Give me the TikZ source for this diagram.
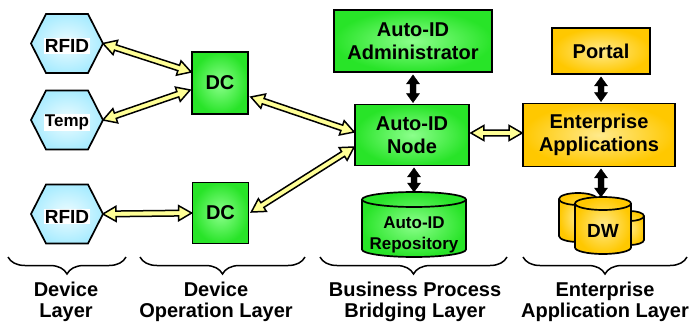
\documentclass[tikz,border=0pt]{standalone}
\usepackage{fontspec}
\setmainfont{Liberation Sans}
\usetikzlibrary{calc,decorations.pathreplacing}

\definecolor{boxgreen}{RGB}{40,228,40}
\definecolor{boxgreenlight}{RGB}{140,255,140}
\definecolor{boxgold}{RGB}{255,200,0}
\definecolor{boxgoldlight}{RGB}{255,234,140}
\definecolor{hexcyan}{RGB}{170,236,255}
\definecolor{hexlight}{RGB}{238,252,255}
\definecolor{linkyellow}{RGB}{255,255,150}

% double-headed block arrow: style, from, to, head length, head half-width, shaft half-width
\newcommand\fatarrow[6]{%
  \filldraw[#1] (#2)
    -- ($(#2)!#4!(#3)!#5!90:(#3)$)
    -- ($(#2)!#4!(#3)!#6!90:(#3)$)
    -- ($(#3)!#4!(#2)!#6!-90:(#2)$)
    -- ($(#3)!#4!(#2)!#5!-90:(#2)$)
    -- (#3)
    -- ($(#3)!#4!(#2)!#5!90:(#2)$)
    -- ($(#3)!#4!(#2)!#6!90:(#2)$)
    -- ($(#2)!#4!(#3)!#6!-90:(#3)$)
    -- ($(#2)!#4!(#3)!#5!-90:(#3)$)
    -- cycle;}

% hexagonal device: name, x, y, label
\newcommand\hexdevice[4]{%
  \shadedraw[hexshape] (#2-36,#3) -- (#2-21,#3-29.5) -- (#2+21,#3-29.5)
    -- (#2+36,#3) -- (#2+21,#3+29.5) -- (#2-21,#3+29.5) -- cycle;
  \coordinate (#1-tip) at (#2+36,#3);
  \node[hexlabel] (#1) at (#2,#3+2.5) {#4};}

% cylinder: center x, x radius, top y, bottom y, y radius, inner colour, outer colour
\newcommand\drum[7]{%
  \shadedraw[drumline, inner color=#6, outer color=#7]
    (#1-#2,#3+#5) -- (#1-#2,#4-#5)
    arc[start angle=180, end angle=0, x radius=#2, y radius=#5]
    -- (#1+#2,#3+#5)
    arc[start angle=0, end angle=-180, x radius=#2, y radius=#5] -- cycle;
  \draw[drumline] (#1-#2,#3+#5) arc[start angle=180, end angle=0, x radius=#2, y radius=#5];}

\begin{document}
\begin{tikzpicture}[x=1pt, y=-1pt,
  boxtext/.style={font=\fontsize{20}{23.5}\selectfont\bfseries, align=center, inner sep=0pt},
  greenbox/.style={boxtext, draw, line width=1.8pt, inner color=boxgreenlight, outer color=boxgreen},
  goldbox/.style={boxtext, draw, line width=1.8pt, inner color=boxgoldlight, outer color=boxgold},
  hexshape/.style={draw, line width=1.7pt, line join=miter, inner color=hexlight, outer color=hexcyan},
  hexlabel/.style={fill=white, inner sep=1pt, font=\fontsize{19}{21}\selectfont\bfseries},
  drumline/.style={draw, line width=1.7pt},
  drumtext/.style={font=\fontsize{17}{21}\selectfont\bfseries, align=center, inner sep=0pt},
  yarrow/.style={fill=linkyellow, draw=black, line width=1.5pt, line join=miter},
  barrow/.style={fill=black, draw=black, line width=0.4pt},
  layerlabel/.style={font=\fontsize{20}{21}\selectfont\bfseries, align=center, inner sep=0pt},
  layerbrace/.style={draw, line width=1.5pt, decorate, decoration={brace, amplitude=17pt}}]

\useasboundingbox (0,0) rectangle (691,324);

% device layer
\hexdevice{rfid1}{67}{43.5}{RFID}
\hexdevice{temp}{67}{120}{\fontsize{17}{19}\selectfont Temp}
\hexdevice{rfid2}{67}{214}{RFID}

% device operation layer
\node[greenbox, minimum width=56pt, minimum height=62pt] (dc1) at (220,83) {DC};
\node[greenbox, minimum width=56pt, minimum height=61pt] (dc2) at (220.5,213) {DC};

% business process bridging layer
\node[greenbox, minimum width=158pt, minimum height=62pt] (admin) at (413,41) {Auto-ID\\Administrator};
\node[greenbox, minimum width=114pt, minimum height=61pt] (autonode) at (412,135) {Auto-ID\\Node};
\drum{414}{52}{192}{257}{7.5}{boxgreenlight}{boxgreen}
\node[drumtext] (repo) at (414,235) {Auto-ID\\Repository};
\coordinate (repo-top) at (414,192);

% enterprise application layer
\node[goldbox, minimum width=98pt, minimum height=46pt] (portal) at (601,51) {Portal};
\node[goldbox, minimum width=152pt, minimum height=63pt] (ea) at (599,135) {Enterprise\\Applications};
\drum{578}{19}{193}{242}{6}{boxgoldlight}{boxgold}
\drum{629}{15}{211}{245}{5}{boxgoldlight}{boxgold}
\drum{603}{28}{197}{254}{6.5}{boxgoldlight}{boxgold}
\node[boxtext, font=\fontsize{19}{21}\selectfont\bfseries] (dw) at (603,231) {DW};
\coordinate (dw-top) at (601,197);

% attachment points
\coordinate (dc1-in1) at ($(dc1.west)+(0,-11)$);
\coordinate (dc1-in2) at ($(dc1.west)+(-1,7)$);
\coordinate (dc1-out) at ($(dc1.east)+(2,14)$);
\coordinate (dc2-out) at ($(dc2.east)+(2,-1)$);
\coordinate (node-in1) at ($(autonode.west)+(0,-3)$);
\coordinate (node-in2) at ($(autonode.west)+(0,12)$);
\coordinate (node-out) at ($(autonode.east)+(1,-2)$);
\coordinate (ea-in) at ($(ea.west)+(0,-2)$);
\coordinate (admin-out) at ($(admin.south)+(0,2)$);
\coordinate (node-top) at ($(admin.south |- autonode.north)+(0,-1)$);
\coordinate (node-bot) at ($(repo-top |- autonode.south)+(0,1.5)$);
\coordinate (portal-out) at ($(portal.south)+(0,2)$);
\coordinate (ea-top) at ($(portal.south |- ea.north)+(0,-1)$);
\coordinate (ea-bot) at ($(dw-top |- ea.south)+(0,1.5)$);

% connectors
\fatarrow{yarrow}{rfid1-tip}{dc1-in1}{13pt}{7.5pt}{2.8pt}
\fatarrow{yarrow}{temp-tip}{dc1-in2}{13pt}{7.5pt}{2.8pt}
\fatarrow{yarrow}{rfid2-tip}{dc2.west}{13pt}{7.5pt}{2.8pt}
\fatarrow{yarrow}{dc1-out}{node-in1}{13pt}{7.5pt}{2.8pt}
\fatarrow{yarrow}{dc2-out}{node-in2}{13pt}{7.5pt}{2.8pt}
\fatarrow{yarrow}{node-out}{ea-in}{13pt}{7.5pt}{2.8pt}
\fatarrow{barrow}{admin-out}{node-top}{9pt}{6.5pt}{3pt}
\fatarrow{barrow}{node-bot}{repo-top}{9pt}{6.5pt}{3pt}
\fatarrow{barrow}{portal-out}{ea-top}{9pt}{6.5pt}{3pt}
\fatarrow{barrow}{ea-bot}{dw-top}{9pt}{6.5pt}{3pt}

% layer braces and captions
\draw[layerbrace] (126,257) -- (8,257);
\draw[layerbrace] (305,257) -- (140,257);
\draw[layerbrace] (507,257) -- (320,257);
\draw[layerbrace] (687,257) -- (523,257);
\node[layerlabel] (cap1) at (66,302) {Device\\Layer};
\node[layerlabel] (cap2) at (216,302) {Device\\Operation Layer};
\node[layerlabel] (cap3) at (415,302) {Business Process\\Bridging Layer};
\node[layerlabel] (cap4) at (605,302) {Enterprise\\Application Layer};
\end{tikzpicture}
\end{document}
